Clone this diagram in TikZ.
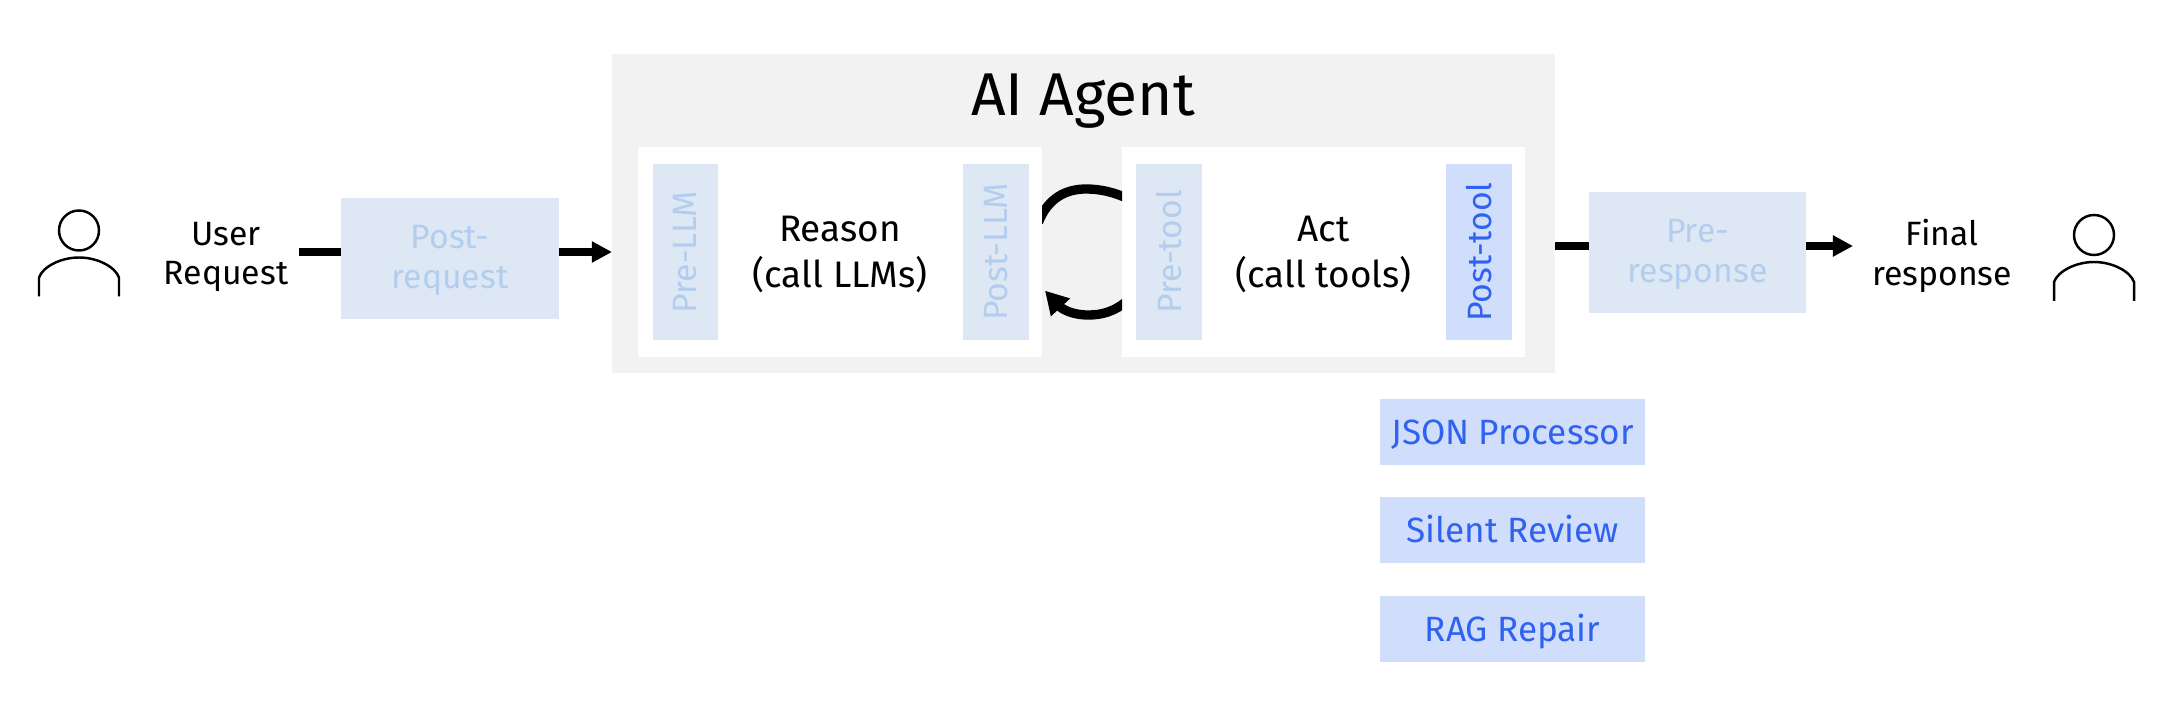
\documentclass[tikz,border=0pt]{standalone}
\usepackage{fontspec}
\setmainfont{Fira Sans}
\usetikzlibrary{arrows.meta}

\definecolor{agentgray}{HTML}{F2F2F2}
\definecolor{hookfill}{HTML}{DEE8F5}
\definecolor{hooktext}{HTML}{B3CDEE}
\definecolor{activefill}{HTML}{D0DEFB}
\definecolor{activetext}{HTML}{2F62F0}

\tikzset{
	boxsize/.style 2 args={minimum width=#1*0.02cm, minimum height=#2*0.02cm, inner sep=0pt, outer sep=0pt},
	bodytext/.style={font=\fontsize{19.2}{22.7}\selectfont, align=center},
	maintext/.style={font=\fontsize{21}{26}\selectfont, align=center, text depth=0pt},
	hookbox/.style={fill=hookfill, text=hooktext, bodytext},
	activebox/.style={fill=activefill, text=activetext, bodytext},
	chipbox/.style={activebox, font=\fontsize{20}{24}\selectfont, text height=14pt, text depth=0pt},
	flowline/.style={line width=4pt},
	flowarrow/.style={line width=4pt, -{Triangle[length=11.5pt,width=11.5pt]}},
	loopline/.style={line width=5.3pt},
	personline/.style={line width=1.4pt}
}

\begin{document}
\begin{tikzpicture}[x=0.02cm,y=-0.02cm]
\useasboundingbox (0,0) rectangle (2176,702);

\node[fill=agentgray,boxsize={943}{319}] (agent) at (1083.5,213.3) {};
\node[font=\fontsize{34.4}{40}\selectfont] (title) at (1083,101) {AI Agent};
\node[fill=white,boxsize={404}{210},maintext] (reason) at (840,252) {Reason\\(call LLMs)};
\node[fill=white,boxsize={403}{210},maintext] (act) at (1323.5,252) {Act\\(call tools)};

% hooks inside the two boxes
\node[hookbox,boxsize={65}{176}] (prellm) at (685.5,252) {\rotatebox{90}{Pre-LLM}};
\node[hookbox,boxsize={66}{176}] (postllm) at (996,252) {\rotatebox{90}{Post-LLM}};
\node[hookbox,boxsize={66}{176}] (pretool) at (1169,252) {\rotatebox{90}{Pre-tool}};
\node[activebox,boxsize={66}{176}] (posttool) at (1479,252) {\rotatebox{90}{Post-tool}};

% the loop between reason and act
\begin{scope}
\clip (reason.north east) rectangle (act.south west);
\draw[loopline] ([xshift=-2pt,yshift=17pt]reason.east) .. controls (1048,198) and (1066,189) .. (1086,189)
	.. controls (1100,189) and (1114,192) .. ([xshift=4pt,yshift=30pt]act.west);
\draw[loopline,-{Triangle[length=13pt,width=14pt]}] ([xshift=4pt,yshift=-27pt]act.west) .. controls (1114,312) and (1102,315) .. (1088,315)
	.. controls (1072,315) and (1062,309) .. ([xshift=1.7pt,yshift=-22pt]reason.east);
\end{scope}

% request side
\node[bodytext] (userreq) at (226,257) {User\\Request};
\node[hookbox,boxsize={218}{121},text depth=1.4pt] (postreq) at (450,258.5) {Post-\\request};
\coordinate (reqline) at (299,252);
\draw[flowline] (reqline) -- (reqline -| postreq.west);
\draw[flowarrow] (reqline -| postreq.east) -- (reqline -| agent.west);

% response side
\node[hookbox,boxsize={217}{121},text depth=1.4pt] (preresp) at (1697.5,252.5) {Pre-\\response};
\node[bodytext] (finalresp) at (1942,256) {Final\\response};
\coordinate (respline) at (1853,246);
\draw[flowline] (agent.east |- respline) -- (respline -| preresp.west);
\draw[flowarrow] (respline -| preresp.east) -- (respline);

% post-tool choices
\foreach \name/\y/\lbl in {json/432/JSON Processor, silent/530/Silent Review, rag/629/RAG Repair}{
	\node[chipbox,boxsize={265}{66}] (\name) at (1512.5,\y) {\lbl};
	}

% the two people
\foreach \cx/\cy in {79/230.5, 2094/235}{
	\draw[personline] (\cx,\cy) circle[radius=20];
	\draw[personline] ({\cx-40},{\cy+66}) -- ({\cx-40},{\cy+47})
		.. controls ({\cx-36},{\cy+36}) and ({\cx-18},{\cy+27}) .. (\cx,{\cy+27})
		.. controls ({\cx+18},{\cy+27}) and ({\cx+36},{\cy+36}) .. ({\cx+40},{\cy+47})
		-- ({\cx+40},{\cy+66});
	}
\end{tikzpicture}
\end{document}
